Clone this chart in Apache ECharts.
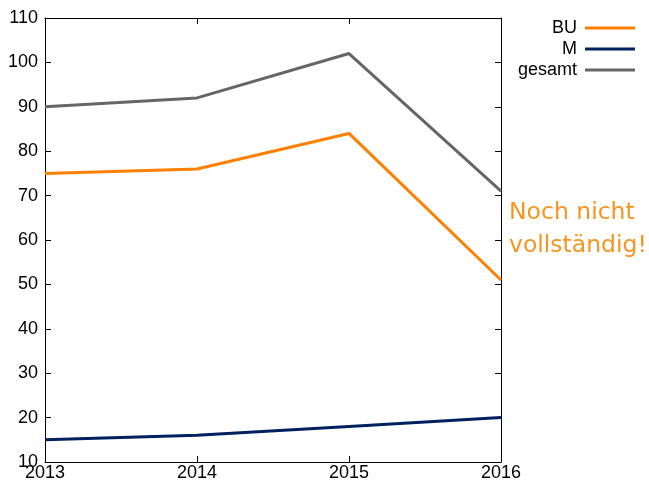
<!DOCTYPE html>
<html>
<head>
<meta charset="utf-8">
<script src="https://cdn.jsdelivr.net/npm/echarts@6/dist/echarts.min.js"></script>
<style>
  html, body { margin: 0; padding: 0; background: #fff; }
  #chart { width: 649px; height: 482px; }
</style>
</head>
<body>
<div id="chart"></div>
<script>
// data
const years = ["2013", "2014", "2015", "2016"];
const buValues = [75, 76, 84, 51];
const mValues = [15, 16, 18, 20];
const gesamtValues = [90, 92, 102, 71];

const chart = echarts.init(document.getElementById("chart"));
const font = "Liberation Sans, Arial, sans-serif";

// ticks inside, mirrored on top/right
const baseAxis = {
  axisLine: { show: true, lineStyle: { color: "#000", width: 1 } },
  axisTick: { show: true, inside: true, length: 6, lineStyle: { color: "#000" } },
  splitLine: { show: false },
};

chart.setOption({
  animation: false,
  textStyle: { fontFamily: font },
  grid: { left: 45, right: 148, top: 18, bottom: 20 },
  legend: {
    orient: "vertical",
    align: "right",
    right: 9,
    top: 14,
    icon: "rect",
    itemWidth: 50,
    itemHeight: 3,
    itemGap: 3,
    textStyle: { fontSize: 18, color: "#000", fontFamily: font, padding: [0, 3, 0, 0] },
    data: ["BU", "M", "gesamt"],
  },
  xAxis: [
    Object.assign({}, baseAxis, {
      type: "category",
      data: years,
      boundaryGap: false,
      axisTick: { show: true, inside: true, length: 6, alignWithLabel: true, lineStyle: { color: "#000" } },
      axisLabel: { color: "#000", fontSize: 18, margin: 2 },
    }),
    Object.assign({}, baseAxis, {
      type: "category",
      data: years,
      boundaryGap: false,
      position: "top",
      axisLabel: { show: false },
    }),
  ],
  yAxis: [
    Object.assign({}, baseAxis, {
      type: "value",
      min: 10,
      max: 110,
      interval: 10,
      axisLabel: { color: "#000", fontSize: 18, margin: 7 },
    }),
    Object.assign({}, baseAxis, {
      type: "value",
      min: 10,
      max: 110,
      interval: 10,
      position: "right",
      axisLabel: { show: false },
    }),
  ],
  graphic: [
    {
      type: "text",
      left: 509,
      top: 196,
      style: {
        text: "Noch nicht\nvollständig!",
        fill: "#f7941e",
        font: '23.5px "DejaVu Sans"',
        lineHeight: 33,
      },
    },
  ],
  series: [
    {
      name: "BU",
      type: "line",
      data: buValues,
      symbol: "none",
      lineStyle: { color: "#ff8000", width: 3 },
      itemStyle: { color: "#ff8000" },
    },
    {
      name: "M",
      type: "line",
      data: mValues,
      symbol: "none",
      lineStyle: { color: "#002060", width: 3 },
      itemStyle: { color: "#002060" },
    },
    {
      name: "gesamt",
      type: "line",
      data: gesamtValues,
      symbol: "none",
      lineStyle: { color: "#666666", width: 3 },
      itemStyle: { color: "#666666" },
    },
  ],
});
</script>
</body>
</html>
